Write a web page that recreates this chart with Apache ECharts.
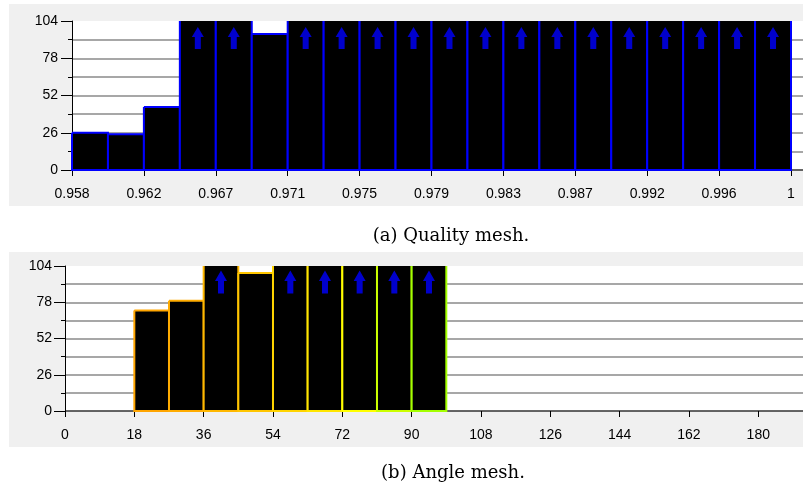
<!DOCTYPE html>
<html>
<head>
<meta charset="utf-8">
<script src="https://cdn.jsdelivr.net/npm/echarts@6/dist/echarts.min.js"></script>
<style>
  html, body { margin: 0; padding: 0; background: #ffffff; }
  #chart { width: 803px; height: 488px; }
</style>
</head>
<body>
<div id="chart"></div>
<script>
// ---------- data ----------
// (a) Quality mesh: 20 bins between 0.958 and 1 (bin index units, 2 bins per tick)
const qualityTicks = ['0.958', '0.962', '0.967', '0.971', '0.975', '0.979', '0.983', '0.987', '0.992', '0.996', '1'];
const qualityCounts = [26, 25, 44, 104, 104, 95, 104, 104, 104, 104, 104, 104, 104, 104, 104, 104, 104, 104, 104, 104];
// (b) Angle mesh: bins of 9 degrees
const angleBinStarts = [18, 27, 36, 45, 54, 63, 72, 81, 90];
const angleBinWidth = 9;
const angleCounts = [72, 79, 104, 99, 104, 104, 104, 104, 104];
const yTop = 104;          // histogram y-axis max (bars reaching it are clipped: arrow)
const captionA = '(a) Quality mesh.';
const captionB = '(b) Angle mesh.';

// ---------- styles ----------
const qualityBorder = '#0000ff';
const angleBorders = ['#ffa500', '#ffac00', '#ffb800', '#ffc600', '#ffd400', '#ffe600', '#ffff00', '#ccff00', '#a4ff00'];
const arrowPath = 'path://M6,0L12,10L9,10L9,22L3,22L3,10L0,10Z';
const tickFont = { fontFamily: 'Liberation Sans, Arial, sans-serif', fontSize: 14, color: '#000' };

const qualityData = qualityCounts.map((v, i) => [i * 0.5, (i + 1) * 0.5, v]);
const qualityArrows = qualityData.filter(d => d[2] >= yTop).map(d => [(d[0] + d[1]) / 2, yTop]);
const angleData = angleCounts.map((v, i) => [angleBinStarts[i], angleBinStarts[i] + angleBinWidth, v]);
const angleArrows = angleData.filter(d => d[2] >= yTop).map(d => [(d[0] + d[1]) / 2, yTop]);

function histRender(colorFn) {
  return function (params, api) {
    const x0 = api.value(0), x1 = api.value(1), v = api.value(2);
    const over = v >= yTop;
    const pb = api.coord([x0, 0]);
    const pt = api.coord([x1, Math.min(v, yTop)]);
    const L = pb[0], R = pt[0], B = pb[1], T = pt[1];
    const col = colorFn(params.dataIndex);
    const pts = over ? [[L, T], [L, B], [R, B], [R, T]] : [[L, T], [L, B], [R, B], [R, T], [L, T]];
    return {
      type: 'group',
      children: [
        { type: 'rect', shape: { x: L, y: T, width: R - L, height: B - T }, style: { fill: '#000' } },
        { type: 'polyline', shape: { points: pts }, style: { fill: null, stroke: col, lineWidth: 2 } }
      ]
    };
  };
}

function yAxisCfg(gridIndex, margin) {
  return {
    type: 'value', gridIndex: gridIndex, min: 0, max: yTop, interval: 26,
    axisLine: { show: true, lineStyle: { color: '#000', width: 1 } },
    axisTick: { show: true, length: 11, lineStyle: { color: '#000' } },
    minorTick: { show: true, splitNumber: 2, length: 4, lineStyle: { color: '#000' } },
    axisLabel: Object.assign({ margin: margin }, tickFont),
    splitLine: { show: true, showMinLine: true, showMaxLine: false, lineStyle: { color: ['#333', '#8a8a8a', '#8a8a8a', '#8a8a8a', '#8a8a8a'], width: 1.5 } },
    minorSplitLine: { show: true, lineStyle: { color: '#8a8a8a', width: 1.5 } }
  };
}

const chart = echarts.init(document.getElementById('chart'), null, { renderer: 'canvas' });
chart.setOption({
  animation: false,
  backgroundColor: '#ffffff',
  graphic: [
    { type: 'rect', z: -5, silent: true, shape: { x: 9, y: 4, width: 794, height: 202 }, style: { fill: '#f0f0f0' } },
    { type: 'rect', z: -5, silent: true, shape: { x: 9, y: 252, width: 794, height: 195 }, style: { fill: '#f0f0f0' } },
    { type: 'text', x: 451, y: 236, style: { text: captionA, fontFamily: 'DejaVu Serif, serif', fontSize: 18, fill: '#000', align: 'center', verticalAlign: 'middle' } },
    { type: 'text', x: 453, y: 473, style: { text: captionB, fontFamily: 'DejaVu Serif, serif', fontSize: 18, fill: '#000', align: 'center', verticalAlign: 'middle' } }
  ],
  grid: [
    { left: 72, top: 21, right: 0, height: 149, show: true, backgroundColor: '#ffffff', borderWidth: 0 },
    { left: 65, top: 266, right: 0, height: 145, show: true, backgroundColor: '#ffffff', borderWidth: 0 }
  ],
  xAxis: [
    {
      type: 'value', gridIndex: 0, min: 0, max: 731 / 71.9, interval: 1, offset: 5,
      axisLine: { show: false },
      axisTick: { show: true, length: 6, lineStyle: { color: '#000' } },
      axisLabel: Object.assign({
        margin: 12,
        showMaxLabel: false,
        formatter: function (v) { const k = Math.round(v); return Math.abs(v - k) < 1e-6 && qualityTicks[k] !== undefined ? qualityTicks[k] : ''; }
      }, tickFont),
      splitLine: { show: false }
    },
    {
      type: 'value', gridIndex: 1, min: 0, max: 738 / 69.33 * 18, interval: 18, offset: 5,
      axisLine: { show: false },
      axisTick: { show: true, length: 6, lineStyle: { color: '#000' } },
      axisLabel: Object.assign({
        margin: 12,
        showMaxLabel: false,
        formatter: function (v) { return v % 18 === 0 ? String(v) : ''; }
      }, tickFont),
      splitLine: { show: false }
    }
  ],
  yAxis: [yAxisCfg(0, 14), yAxisCfg(1, 13)],
  series: [
    {
      type: 'custom', xAxisIndex: 0, yAxisIndex: 0, clip: false, silent: true,
      renderItem: histRender(() => qualityBorder),
      encode: { x: [0, 1], y: 2 },
      data: qualityData
    },
    {
      type: 'scatter', xAxisIndex: 0, yAxisIndex: 0, silent: true,
      symbol: arrowPath, symbolSize: [12, 22], symbolOffset: [0, 17],
      itemStyle: { color: '#0000ff' },
      data: qualityArrows, z: 5
    },
    {
      type: 'custom', xAxisIndex: 1, yAxisIndex: 1, clip: false, silent: true,
      renderItem: histRender(i => angleBorders[i]),
      encode: { x: [0, 1], y: 2 },
      data: angleData
    },
    {
      type: 'scatter', xAxisIndex: 1, yAxisIndex: 1, silent: true,
      symbol: arrowPath, symbolSize: [12, 23], symbolOffset: [0, 16],
      itemStyle: { color: '#0000ff' },
      data: angleArrows, z: 5
    }
  ]
});
</script>
</body>
</html>
